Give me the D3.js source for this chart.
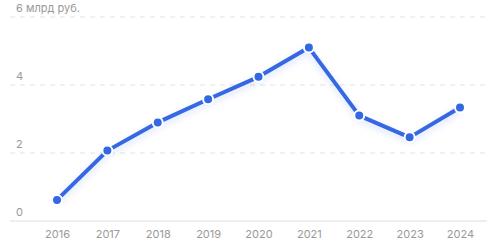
<!DOCTYPE html>
<html>
<head>
<meta charset="utf-8">
<script src="https://cdn.jsdelivr.net/npm/d3@7"></script>
<style>
  body { margin: 0; background: #fff; }
  svg { display: block; font-family: Inter, "Noto Sans", sans-serif; }
</style>
</head>
<body>
<div id="chart"></div>
<script>
const years = ["2016", "2017", "2018", "2019", "2020", "2021", "2022", "2023", "2024"];
const revenue = [0.62, 2.07, 2.9, 3.58, 4.24, 5.1, 3.1, 2.46, 3.34];
const yTicks = [0, 2, 4, 6];
const yUnit = "млрд руб.";

const width = 500, height = 248;
const plotLeft = 10, plotRight = 487, plotTop = 17, plotBottom = 221;

const svg = d3.select("#chart").append("svg")
  .attr("width", width)
  .attr("height", height);

const defs = svg.append("defs");
const shadow = defs.append("filter").attr("id", "shadow")
  .attr("x", "-10%").attr("y", "-20%").attr("width", "120%").attr("height", "160%");
shadow.append("feDropShadow")
  .attr("dx", 0).attr("dy", 3).attr("stdDeviation", 3)
  .attr("flood-color", "#3366e6").attr("flood-opacity", 0.2);

const x = d3.scalePoint().domain(years).range([57, 460]);
const y = d3.scaleLinear().domain([0, 6]).range([plotBottom, plotTop]);

// gridlines
svg.append("g")
  .selectAll("line")
  .data(yTicks)
  .enter()
  .append("line")
  .attr("x1", plotLeft)
  .attr("x2", plotRight)
  .attr("y1", d => y(d))
  .attr("y2", d => y(d))
  .attr("stroke", d => d === 0 ? "#e8e8e8" : "#e3e3e3")
  .attr("stroke-width", d => d === 0 ? 1.5 : 1)
  .attr("stroke-dasharray", d => d === 0 ? null : "5,5");

// y labels
svg.append("g")
  .selectAll("text")
  .data(yTicks)
  .enter()
  .append("text")
  .attr("x", 16)
  .attr("y", d => y(d) - 5)
  .attr("font-size", 11)
  .attr("fill", "#999")
  .text(d => d === 6 ? d + " " + yUnit : d);

// x axis labels
const xAxis = d3.axisBottom(x).tickSize(0).tickPadding(8);
const gx = svg.append("g")
  .attr("transform", `translate(0,${plotBottom + 1})`)
  .call(xAxis);
gx.select(".domain").remove();
gx.selectAll("text")
  .attr("font-size", 11)
  .attr("font-family", "Inter, 'Noto Sans', sans-serif")
  .attr("fill", "#999");

const line = d3.line()
  .x((d, i) => x(years[i]))
  .y(d => y(d));

svg.append("path")
  .datum(revenue)
  .attr("d", line)
  .attr("fill", "none")
  .attr("stroke", "#3467e2")
  .attr("stroke-width", 4)
  .attr("stroke-linejoin", "round")
  .attr("filter", "url(#shadow)");

svg.append("g")
  .selectAll("circle")
  .data(revenue)
  .enter()
  .append("circle")
  .attr("cx", (d, i) => x(years[i]))
  .attr("cy", d => y(d))
  .attr("r", 5)
  .attr("fill", "#3467e2")
  .attr("stroke", "#fff")
  .attr("stroke-width", 2);
</script>
</body>
</html>
